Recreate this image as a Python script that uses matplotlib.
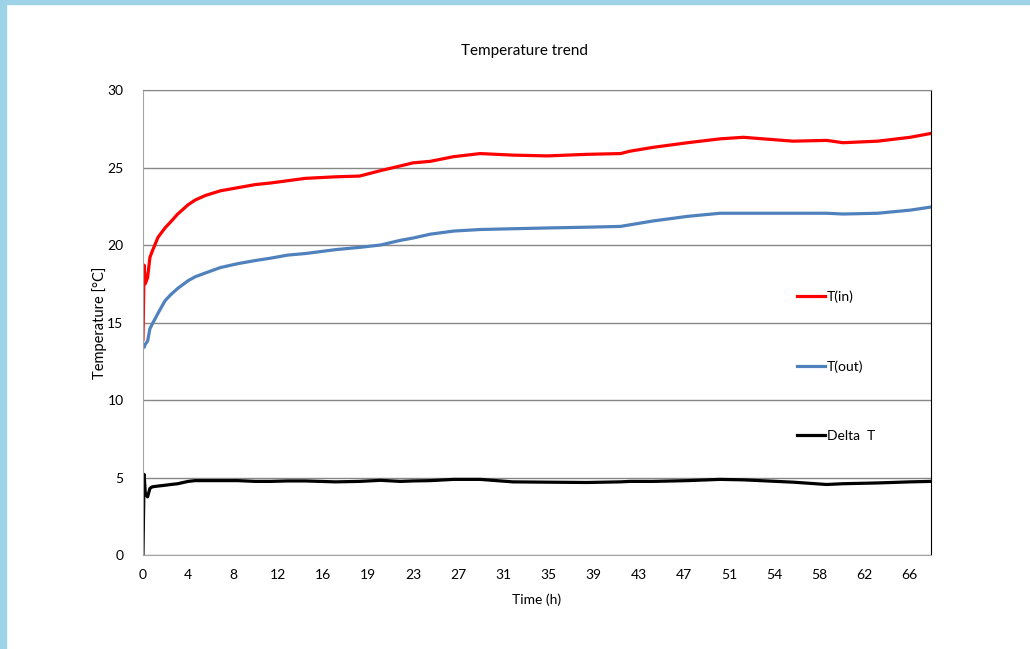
import matplotlib
matplotlib.use("Agg")
import matplotlib.pyplot as plt
from matplotlib.patches import Rectangle

plt.rcParams['font.family'] = ['Lato', 'DejaVu Sans']

# time (h) and readings picked off the original chart
hours = [0, 0.1, 0.2, 0.4, 0.6, 0.8, 1.3, 1.9, 2.4, 3.0, 3.9, 4.5, 5.4, 6.7, 8.2,
         9.7, 11.0, 12.5, 14.0, 16.6, 18.7, 20.5, 22.2, 23.3, 24.8, 26.8, 29.1,
         31.9, 34.9, 38.3, 41.2, 42.0, 44.0, 47.0, 49.8, 51.8, 56.1, 59.0, 60.4,
         63.4, 66.2, 68.0]
t_in = [13.9, 18.7, 17.5, 17.9, 19.2, 19.6, 20.5, 21.1, 21.5, 22.0, 22.6, 22.9,
        23.2, 23.5, 23.7, 23.9, 24.0, 24.15, 24.3, 24.4, 24.45, 24.8, 25.1, 25.3,
        25.4, 25.7, 25.9, 25.8, 25.75, 25.85, 25.9, 26.05, 26.3, 26.6, 26.85,
        26.95, 26.7, 26.75, 26.6, 26.7, 26.95, 27.2]
t_out = [13.4, 13.4, 13.6, 13.8, 14.6, 14.9, 15.6, 16.4, 16.8, 17.2, 17.7, 17.95,
         18.2, 18.55, 18.8, 19.0, 19.15, 19.35, 19.45, 19.7, 19.85, 20.0, 20.3,
         20.45, 20.7, 20.9, 21.0, 21.05, 21.1, 21.15, 21.2, 21.3, 21.55, 21.85,
         22.05, 22.05, 22.05, 22.05, 22.0, 22.05, 22.25, 22.45]
delta_t = [0, 5.2, 4.0, 3.75, 4.3, 4.4, 4.45, 4.5, 4.55, 4.6, 4.75, 4.8, 4.8, 4.8,
           4.8, 4.75, 4.75, 4.78, 4.78, 4.72, 4.75, 4.82, 4.75, 4.78, 4.8, 4.88,
           4.88, 4.72, 4.7, 4.68, 4.72, 4.75, 4.75, 4.8, 4.88, 4.85, 4.7, 4.55,
           4.6, 4.65, 4.72, 4.75]

tick_step = 3.89
tick_labels = ['0', '4', '8', '12', '16', '19', '23', '27', '31', '35', '39',
               '43', '47', '51', '54', '58', '62', '66']

fig = plt.figure(figsize=(10.3, 6.49), dpi=100)
ax = fig.add_axes([0.1388, 0.1448, 0.7651, 0.7165])

# light blue frame on left / top edge of the screenshot
fig.patches.append(Rectangle((0, 0), 0.006, 1, transform=fig.transFigure,
                             color='#9dd3e6', zorder=0))
fig.patches.append(Rectangle((0, 0.994), 1, 0.006, transform=fig.transFigure,
                             color='#9dd3e6', zorder=0))

ax.plot(hours, t_in, color='#ff0000', lw=2.3, label='T(in)')
ax.plot(hours, t_out, color='#4f81bd', lw=2.3, label='T(out)')
ax.plot(hours, delta_t, color='black', lw=2.3, label='Delta  T')

ax.set_xlim(0, 68.0)
ax.set_ylim(0, 30)
ax.set_yticks(range(0, 31, 5))
ax.set_xticks([i * tick_step for i in range(len(tick_labels))])
ax.set_xticklabels(tick_labels)
ax.tick_params(length=0, labelsize=10, colors='black')
ax.tick_params(axis='y', pad=14)
ax.tick_params(axis='x', pad=10)
ax.grid(axis='y', color='#878787', lw=1)
ax.set_axisbelow(True)

for s in ['left', 'bottom']:
    ax.spines[s].set_color('#a6a6a6')
ax.spines['top'].set_color('#878787')
ax.spines['right'].set_color('black')

ax.set_xlabel('Time (h)', fontsize=10, labelpad=9)
ax.set_ylabel('Temperature [°C]', fontsize=10.5, labelpad=0)
fig.text(0.509, 0.922, 'Temperature trend', fontsize=11, ha='center', va='center')

ax.legend(loc='center left', bbox_to_anchor=(0.830, 0.406), frameon=False,
          fontsize=10, handlelength=2.0, handletextpad=0.15, labelspacing=4.1,
          borderpad=0, borderaxespad=0)

fig.savefig('out.png', dpi=100)
